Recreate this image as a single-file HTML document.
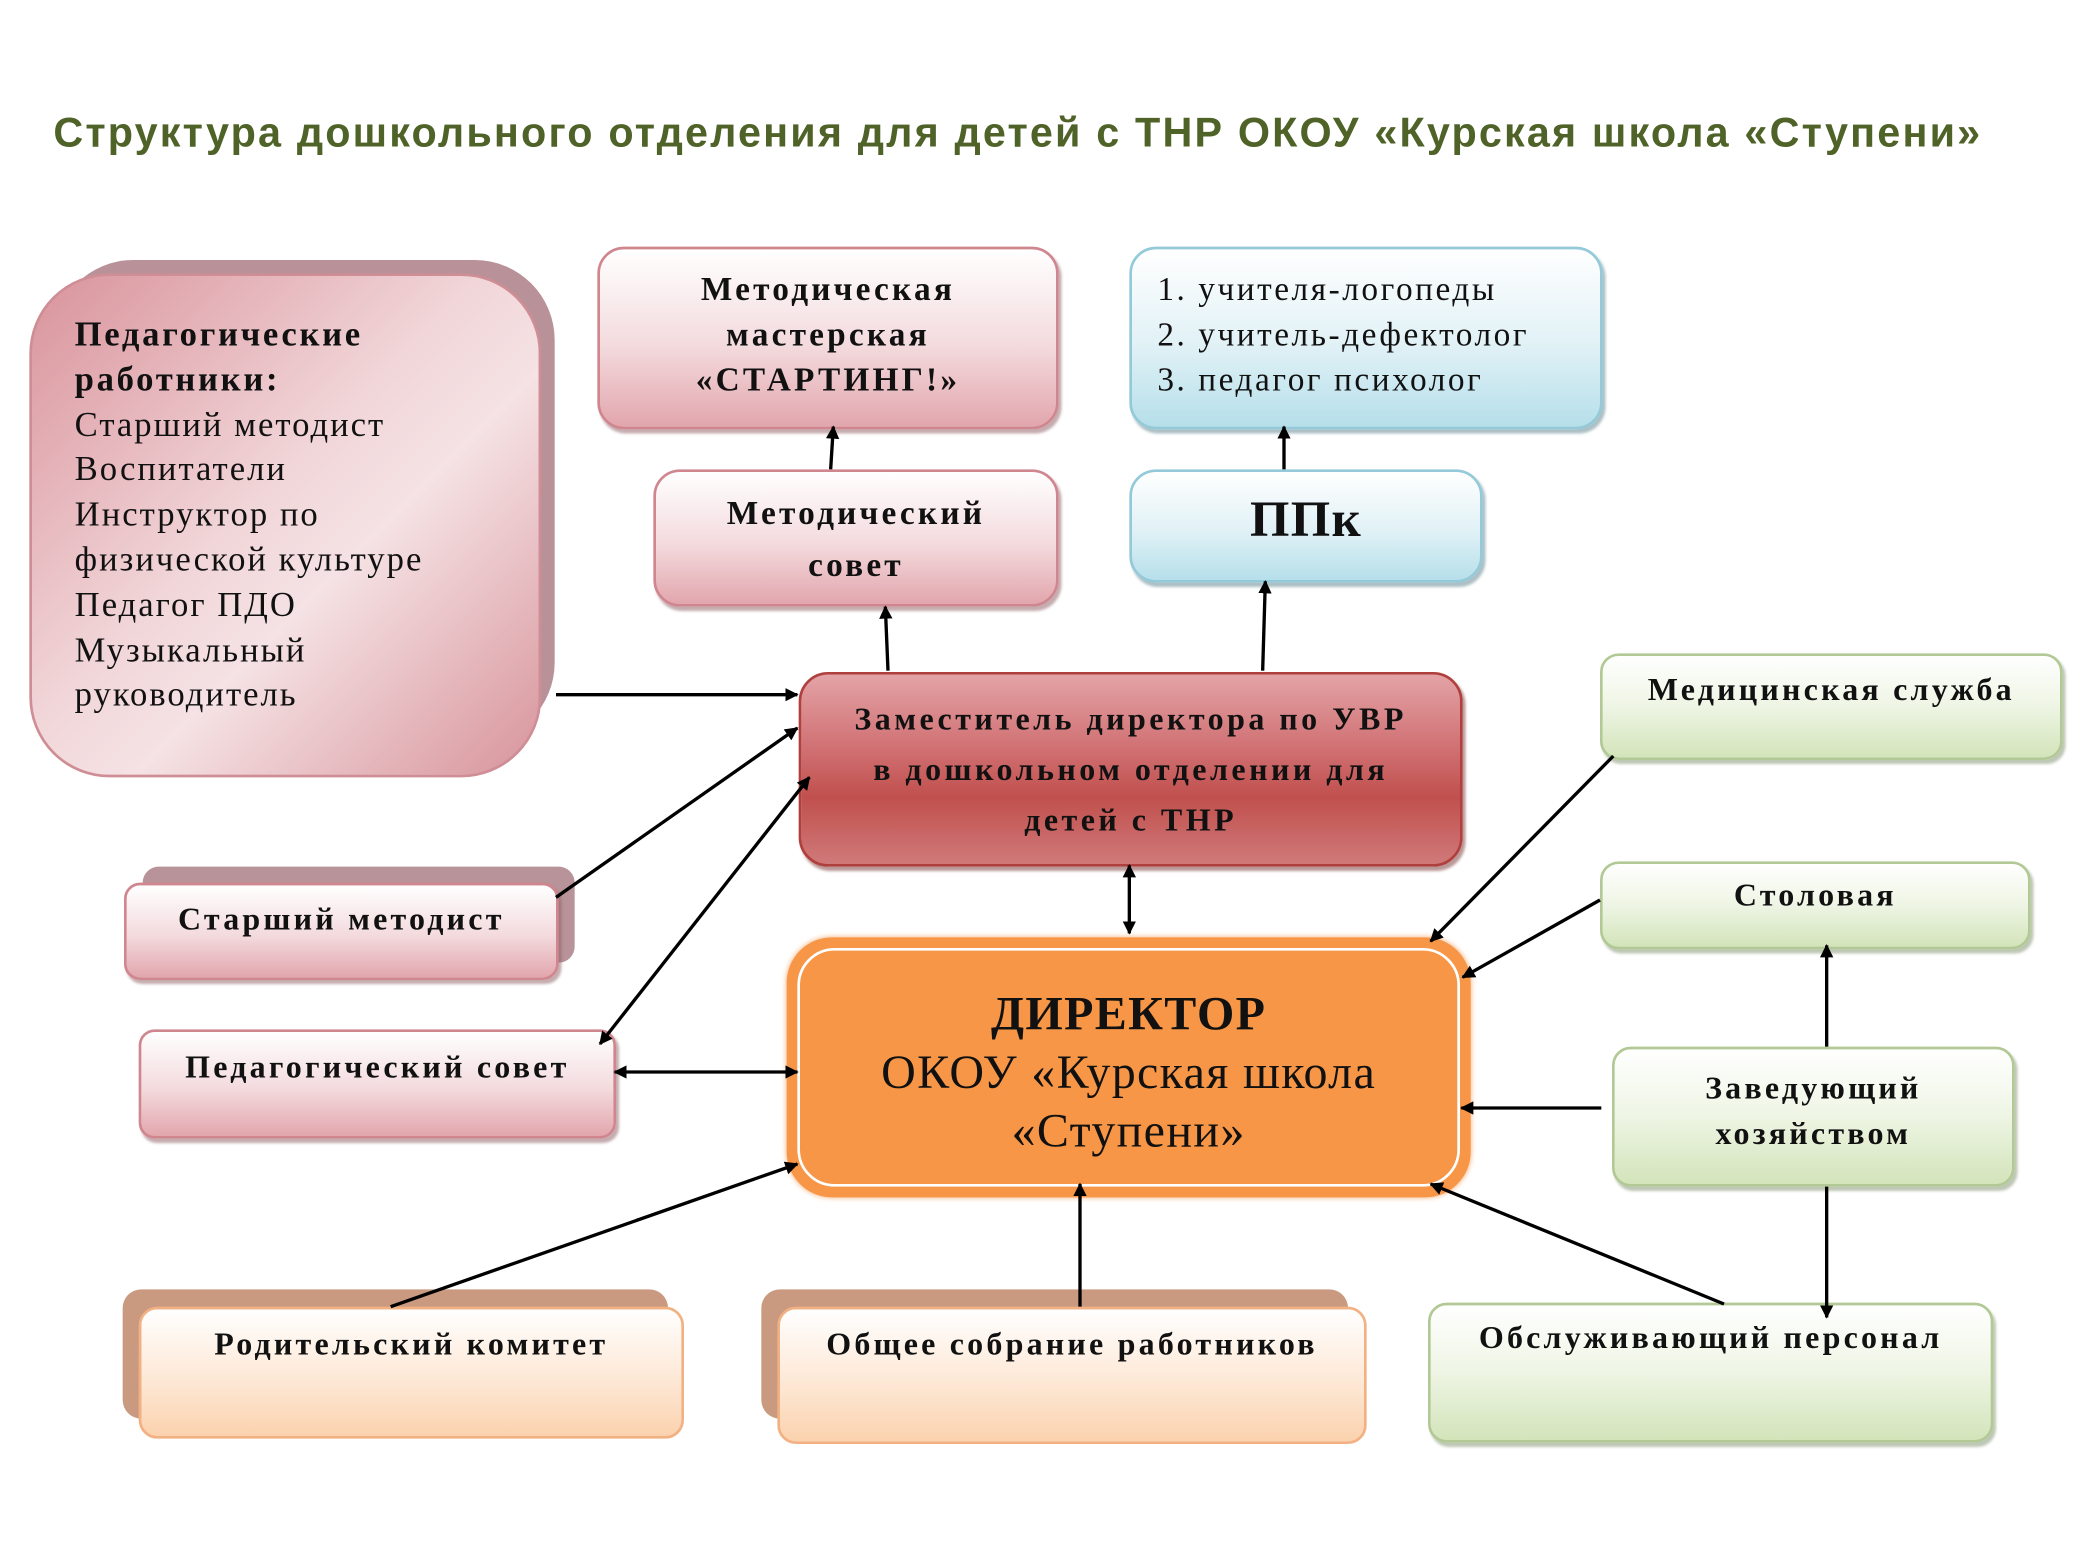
<!DOCTYPE html>
<html><head><meta charset="utf-8"><style>
html,body{margin:0;padding:0;background:#fff;}
body{width:2088px;height:1566px;overflow:hidden;position:relative;}
#w{position:absolute;left:0;top:0;width:1566px;height:1175px;transform:scale(1.33333);transform-origin:0 0;font-family:"Liberation Serif","DejaVu Serif",serif;}
.b{position:absolute;box-sizing:border-box;}
.t{position:absolute;white-space:nowrap;color:#111;}
.c{text-align:center;font-weight:bold;font-size:25px;letter-spacing:2.4px;}
.pink{background:linear-gradient(#fff 0%,#f3dadd 55%,#e2a6ad 100%);border:2px solid #d0868f;border-radius:20px;box-shadow:2px 3px 2px rgba(140,90,95,.5);}
.blue{background:linear-gradient(#fff 0%,#e0f1f6 55%,#b6dfea 100%);border:2px solid #93c9d8;border-radius:20px;box-shadow:2px 3px 2px rgba(90,130,140,.5);}
.green{background:linear-gradient(#fff 0%,#eef5e4 50%,#d3e4ba 100%);border:2px solid #b2c995;border-radius:14px;box-shadow:2px 3px 2px rgba(110,130,90,.45);}
.peach{background:linear-gradient(#fff 0%,#fde6d2 60%,#fbd2ae 100%);border:2px solid #f2b183;border-radius:14px;}
</style></head><body><div id="w">
<div class="t" style="left:40px;top:82px;font-family:'Liberation Sans','DejaVu Sans',sans-serif;font-weight:bold;font-size:31px;color:#4f6228;letter-spacing:1.62px;">Структура дошкольного отделения для детей с ТНР ОКОУ «Курская школа «Ступени»</div>

<div class="b" style="left:40px;top:195px;width:376px;height:362px;border-radius:60px;background:#b89298;"></div>
<div class="b" style="left:22px;top:205px;width:384px;height:378px;border-radius:60px;background:linear-gradient(135deg,#d9939b 0%,#f1d6d9 45%,#f5e2e4 60%,#d7949b 100%);border:2px solid #cf8d95;"></div>
<div class="t" style="left:56px;top:234px;font-size:26px;line-height:33.8px;letter-spacing:1.5px;">
<b style="letter-spacing:2px">Педагогические<br>работники:</b><br>Старший методист<br>Воспитатели<br>Инструктор по<br>физической культуре<br>Педагог ПДО<br>Музыкальный<br>руководитель</div>

<div class="b pink" style="left:448px;top:185px;width:346px;height:137px;"></div>
<div class="t c" style="left:448px;top:201px;width:346px;line-height:34px;">Методическая<br>мастерская<br>«СТАРТИНГ!»</div>
<div class="b pink" style="left:490px;top:352px;width:304px;height:103px;"></div>
<div class="t c" style="left:490px;top:366px;width:304px;line-height:39px;">Методический<br>совет</div>

<div class="b blue" style="left:847px;top:185px;width:355px;height:137px;"></div>
<div class="t" style="left:868px;top:201px;font-size:25px;line-height:34px;letter-spacing:1.9px;">1. учителя-логопеды<br>2. учитель-дефектолог<br>3. педагог психолог</div>
<div class="b blue" style="left:847px;top:352px;width:265px;height:85px;"></div>
<div class="t c" style="left:847px;top:368px;width:265px;font-size:38px;letter-spacing:1px;">ППк</div>

<div class="b" style="left:599px;top:504px;width:498px;height:146px;border-radius:22px;background:linear-gradient(#e3a3a6 0%,#d06f72 40%,#c0504d 65%,#d0797a 100%);border:2px solid #b0403e;box-shadow:2px 3px 2px rgba(120,50,50,.5);"></div>
<div class="t c" style="left:599px;top:521px;width:498px;line-height:38px;font-size:24px;letter-spacing:2.6px;">Заместитель директора по УВР<br>в дошкольном отделении для<br>детей с ТНР</div>

<div class="b green" style="left:1200px;top:490px;width:347px;height:80px;"></div>
<div class="t c" style="left:1200px;top:505px;width:347px;font-size:24px;">Медицинская служба</div>
<div class="b green" style="left:1200px;top:646px;width:323px;height:66px;"></div>
<div class="t c" style="left:1200px;top:659px;width:323px;font-size:24px;">Столовая</div>
<div class="b green" style="left:1209px;top:785px;width:302px;height:105px;"></div>
<div class="t c" style="left:1209px;top:800px;width:302px;font-size:24px;line-height:34px;">Заведующий<br>хозяйством</div>
<div class="b green" style="left:1071px;top:977px;width:424px;height:105px;"></div>
<div class="t c" style="left:1071px;top:991px;width:424px;font-size:24px;">Обслуживающий персонал</div>

<div class="b" style="left:590px;top:703px;width:513px;height:195px;border-radius:34px;background:#f79646;box-shadow:0 0 4px #f6b07a;"></div>
<div class="b" style="left:598px;top:711px;width:497px;height:179px;border-radius:28px;border:2px solid #fff;"></div>
<div class="t" style="left:590px;top:738px;width:513px;text-align:center;font-size:36px;line-height:44px;color:#111;letter-spacing:1px;"><b>ДИРЕКТОР</b><br>ОКОУ «Курская школа<br>«Ступени»</div>

<div class="b" style="left:107px;top:650px;width:324px;height:72px;border-radius:12px;background:#b9939a;"></div>
<div class="b pink" style="left:93px;top:662px;width:326px;height:73px;border-radius:12px;"></div>
<div class="t c" style="left:93px;top:677px;width:326px;font-size:24px;">Старший методист</div>
<div class="b pink" style="left:104px;top:772px;width:358px;height:82px;border-radius:12px;"></div>
<div class="t c" style="left:104px;top:788px;width:358px;font-size:24px;">Педагогический совет</div>

<div class="b" style="left:92px;top:967px;width:409px;height:97px;border-radius:14px;background:#c99a80;"></div>
<div class="b peach" style="left:104px;top:980px;width:409px;height:99px;"></div>
<div class="t c" style="left:104px;top:996px;width:409px;font-size:24px;">Родительский комитет</div>
<div class="b" style="left:571px;top:967px;width:440px;height:97px;border-radius:14px;background:#c99a80;"></div>
<div class="b peach" style="left:583px;top:980px;width:442px;height:103px;"></div>
<div class="t c" style="left:583px;top:996px;width:442px;font-size:24px;">Общее собрание работников</div>

<svg style="position:absolute;left:0;top:0" width="1566" height="1175">
<defs><marker id="a" markerWidth="10" markerHeight="10" refX="9" refY="5" orient="auto-start-reverse" markerUnits="userSpaceOnUse"><path d="M0,0 L10,5 L0,10 z" fill="#000"/></marker></defs>
<g stroke="#000" stroke-width="2.5" fill="none">
<line x1="623" y1="352" x2="625" y2="320" marker-end="url(#a)"/>
<line x1="666" y1="503" x2="664" y2="455" marker-end="url(#a)"/>
<line x1="963" y1="352" x2="963" y2="320" marker-end="url(#a)"/>
<line x1="947" y1="503" x2="949" y2="436" marker-end="url(#a)"/>
<line x1="417" y1="521" x2="598" y2="521" marker-end="url(#a)"/>
<line x1="417" y1="673" x2="598" y2="546" marker-end="url(#a)"/>
<line x1="450" y1="783" x2="607" y2="583" marker-start="url(#a)" marker-end="url(#a)"/>
<line x1="847" y1="649" x2="847" y2="700" marker-start="url(#a)" marker-end="url(#a)"/>
<line x1="461" y1="804" x2="598" y2="804" marker-start="url(#a)" marker-end="url(#a)"/>
<line x1="293" y1="980" x2="598" y2="873" marker-end="url(#a)"/>
<line x1="810" y1="980" x2="810" y2="888" marker-end="url(#a)"/>
<line x1="1210" y1="567" x2="1073" y2="706" marker-end="url(#a)"/>
<line x1="1200" y1="675" x2="1097" y2="733" marker-end="url(#a)"/>
<line x1="1201" y1="831" x2="1096" y2="831" marker-end="url(#a)"/>
<line x1="1370" y1="785" x2="1370" y2="709" marker-end="url(#a)"/>
<line x1="1370" y1="890" x2="1370" y2="988" marker-end="url(#a)"/>
<line x1="1293" y1="978" x2="1073" y2="888" marker-end="url(#a)"/>
</g></svg>
</div></body></html>
